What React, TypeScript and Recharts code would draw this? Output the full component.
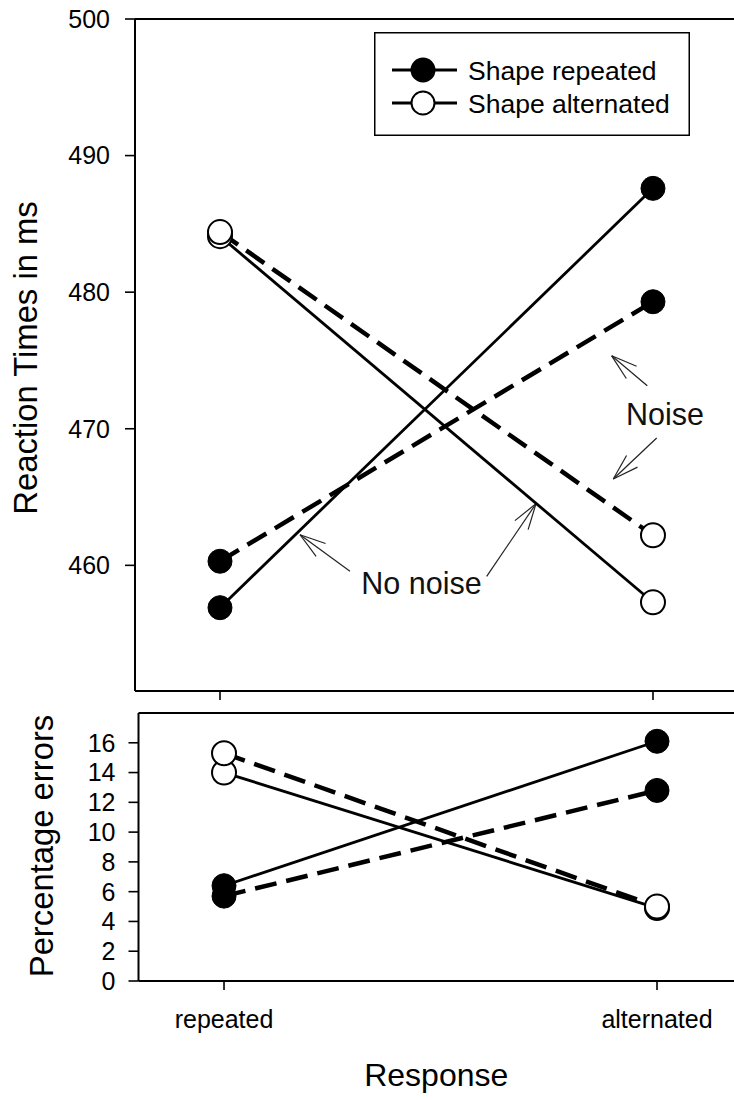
import React from 'react';
import { LineChart, Line, XAxis, YAxis, ReferenceLine, ReferenceDot, Legend } from 'recharts';

const FONT = '"Liberation Sans", Arial, Helvetica, sans-serif';

// ---- data ----
const categories = ['repeated', 'alternated'];
const categoryIndex = [0, 1];

// Reaction times (ms)
const rtShapeRepNoNoise = [456.9, 487.6];
const rtShapeRepNoise = [460.3, 479.3];
const rtShapeAltNoNoise = [484.1, 457.3];
const rtShapeAltNoise = [484.4, 462.2];

// Percentage errors
const errShapeRepNoNoise = [6.4, 16.1];
const errShapeRepNoise = [5.7, 12.8];
const errShapeAltNoNoise = [14.0, 4.9];
const errShapeAltNoise = [15.3, 5.0];

const rtTicks = [460, 470, 480, 490, 500];
const rtDomain = [450.8, 500];
const errTicks = [0, 2, 4, 6, 8, 10, 12, 14, 16];
const errDomain = [0, 18];

const legendLabels = ['Shape repeated', 'Shape alternated'];
const legendFills = ['#000', '#fff'];

// annotations (in data units of the RT panel)
const noiseLabel = { x: 1.0277, y: 470.29, text: 'Noise' };
const noNoiseLabel = { x: 0.4654, y: 457.93, text: 'No noise' };
const noiseArrows = [
  { tail: { x: 0.9868, y: 473.15 }, tip: { x: 0.9046, y: 475.34 } },
  { tail: { x: 1.0085, y: 469.32 }, tip: { x: 0.9083, y: 466.32 } },
];
const noNoiseArrows = [
  { tail: { x: 0.3002, y: 459.56 }, tip: { x: 0.1848, y: 462.24 } },
  { tail: { x: 0.6159, y: 459.19 }, tip: { x: 0.7298, y: 464.51 } },
];

const rtRows = categoryIndex.map((x, i) => ({
  x,
  repNo: rtShapeRepNoNoise[i],
  repN: rtShapeRepNoise[i],
  altNo: rtShapeAltNoNoise[i],
  altN: rtShapeAltNoise[i],
}));
const errRows = categoryIndex.map((x, i) => ({
  x,
  repNo: errShapeRepNoNoise[i],
  repN: errShapeRepNoise[i],
  altNo: errShapeAltNoNoise[i],
  altN: errShapeAltNoise[i],
}));

const SOLID_W = 2.8;
const DASH_W = 4.5;
const DASH = '22 10';
const R = 12;

const filledDot = { r: R, fill: '#000', stroke: '#000', strokeWidth: 1 };
const openDot = { r: R, fill: '#fff', stroke: '#000', strokeWidth: 2 };

const series = [
  { key: 'repNo', dashed: false, dot: filledDot },
  { key: 'repN', dashed: true, dot: filledDot },
  { key: 'altNo', dashed: false, dot: openDot },
  { key: 'altN', dashed: true, dot: openDot },
];

const ArrowShape = (props: any) => {
  const { x1, y1, x2, y2 } = props;
  if (x1 == null || x2 == null) return null;
  const ang = Math.atan2(y1 - y2, x1 - x2);
  const L = 27;
  const spread = 0.3;
  const b1x = x2 + L * Math.cos(ang + spread);
  const b1y = y2 + L * Math.sin(ang + spread);
  const b2x = x2 + L * Math.cos(ang - spread);
  const b2y = y2 + L * Math.sin(ang - spread);
  return (
    <g stroke="#222" strokeWidth={1.2} fill="none">
      <line x1={x1} y1={y1} x2={x2} y2={y2} />
      <line x1={x2} y1={y2} x2={b1x} y2={b1y} />
      <line x1={x2} y1={y2} x2={b2x} y2={b2y} />
    </g>
  );
};

const textShape = (text: string) => (props: any) => (
  <text x={props.cx} y={props.cy} textAnchor="middle" fontSize={30.5} fontFamily={FONT} fill="#111">
    {text}
  </text>
);

const LegendBox = () => (
  <svg width={316} height={104} style={{ display: 'block' }}>
    <rect x={0.75} y={0.75} width={314.5} height={102.5} fill="#fff" stroke="#000" strokeWidth={1.5} />
    {legendLabels.map((lab, i) => {
      const cy = 38 + i * 33;
      return (
        <g key={lab}>
          <line x1={18} y1={cy} x2={83} y2={cy} stroke="#000" strokeWidth={3} />
          <circle cx={49} cy={cy} r={11.5} fill={legendFills[i]} stroke="#000" strokeWidth={2} />
          <text x={94} y={cy + 9.5} fontSize={26.5} fontFamily={FONT} fill="#000">
            {lab}
          </text>
        </g>
      );
    })}
  </svg>
);

const yTitle = (text: string, baselineX: number, dy: number) => (props: any) => {
  const vb = props.viewBox || { x: 0, y: 0, width: 0, height: 0 };
  const cy = vb.y + vb.height / 2 + dy;
  return (
    <text
      x={baselineX}
      y={cy}
      transform={`rotate(-90, ${baselineX}, ${cy})`}
      textAnchor="middle"
      fontSize={32.8}
      fontFamily={FONT}
      fill="#000"
    >
      {text}
    </text>
  );
};

const axisLine = { stroke: '#000', strokeWidth: 2 };
const tickLine = { stroke: '#000', strokeWidth: 1.6 };
const tickStyle = { fontSize: 25, fill: '#000', fontFamily: FONT };

const renderSeries = () => [
  ...series.map((s) => (
    <Line
      key={s.key + '-line'}
      dataKey={s.key}
      stroke="#000"
      strokeWidth={s.dashed ? DASH_W : SOLID_W}
      strokeDasharray={s.dashed ? DASH : undefined}
      dot={false}
      activeDot={false}
      legendType="none"
      isAnimationActive={false}
    />
  )),
  ...series.map((s) => (
    <Line
      key={s.key + '-dot'}
      dataKey={s.key}
      stroke="none"
      strokeWidth={0}
      dot={s.dot}
      activeDot={false}
      legendType="none"
      isAnimationActive={false}
    />
  )),
];

export default function App() {
  return (
    <div
      style={{
        position: 'absolute',
        left: 0,
        top: 0,
        width: 734,
        height: 1100,
        background: '#fff',
        overflow: 'hidden',
        fontFamily: FONT,
      }}
    >
      <div style={{ position: 'absolute', left: 0, top: 0 }}>
        <LineChart width={734} height={703} data={rtRows} margin={{ top: 19, right: 0, bottom: 0, left: 0 }}>
          <XAxis
            dataKey="x"
            type="number"
            domain={[-0.1963, 1.1871]}
            ticks={categoryIndex}
            interval={0}
            tickFormatter={() => ''}
            height={12}
            tickSize={9}
            axisLine={axisLine}
            tickLine={tickLine}
            allowDataOverflow
          />
          <YAxis
            type="number"
            domain={rtDomain}
            ticks={rtTicks}
            interval={0}
            width={135}
            tickSize={10}
            tickMargin={15}
            tick={tickStyle}
            axisLine={axisLine}
            tickLine={tickLine}
            allowDataOverflow
            label={{ content: yTitle('Reaction Times in ms', 37, 3) }}
          />
          <ReferenceLine y={500} stroke="#000" strokeWidth={2} />
          {noiseArrows.concat(noNoiseArrows).map((a, i) => (
            <ReferenceLine key={'arr' + i} segment={[a.tail, a.tip]} shape={ArrowShape} />
          ))}
          <ReferenceDot x={noiseLabel.x} y={noiseLabel.y} r={0} shape={textShape(noiseLabel.text)} />
          <ReferenceDot x={noNoiseLabel.x} y={noNoiseLabel.y} r={0} shape={textShape(noNoiseLabel.text)} />
          {renderSeries()}
          <Legend
            layout="vertical"
            align="center"
            verticalAlign="middle"
            wrapperStyle={{ left: 374, top: 32, width: 316, height: 104 }}
            content={() => <LegendBox />}
          />
        </LineChart>
      </div>
      <div style={{ position: 'absolute', left: 0, top: 700 }}>
        <LineChart width={734} height={400} data={errRows} margin={{ top: 13, right: 0, bottom: 0, left: 0 }}>
          <XAxis
            dataKey="x"
            type="number"
            domain={[-0.1975, 1.1778]}
            ticks={categoryIndex}
            interval={0}
            tickFormatter={(v: number) => categories[v] ?? ''}
            height={119}
            tickSize={9}
            tickMargin={20}
            tick={tickStyle}
            axisLine={axisLine}
            tickLine={tickLine}
            allowDataOverflow
            label={{
              value: 'Response',
              position: 'insideBottom',
              offset: 14,
              style: { fontSize: 32, fill: '#000', fontFamily: FONT },
            }}
          />
          <YAxis
            type="number"
            domain={errDomain}
            ticks={errTicks}
            interval={0}
            width={138.5}
            tickSize={10}
            tickMargin={13}
            tick={tickStyle}
            axisLine={axisLine}
            tickLine={tickLine}
            allowDataOverflow
            label={{ content: yTitle('Percentage errors', 53, -1) }}
          />
          <ReferenceLine y={18} stroke="#000" strokeWidth={2} />
          {renderSeries()}
        </LineChart>
      </div>
    </div>
  );
}
